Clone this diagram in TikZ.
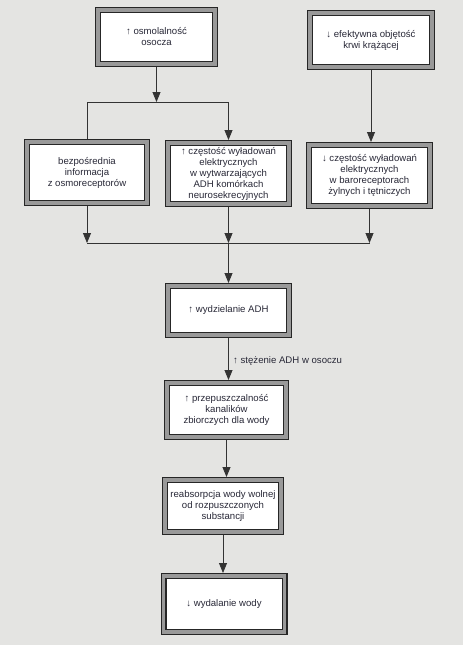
\documentclass[tikz,border=0pt]{standalone}
\usepackage{fontspec}
\setmainfont{Liberation Sans}
\usetikzlibrary{arrows.meta}
\definecolor{bgc}{RGB}{228,228,226}
\definecolor{txt}{RGB}{40,40,55}
\begin{document}
\begin{tikzpicture}[x=1pt,y=-1pt,
  box/.style={draw=black!85, line width=1.2pt, double=black!40, double distance=3.6pt,
    fill=white, align=center, inner sep=2pt, outer sep=3pt,
    font=\fontsize{9.6}{11}\selectfont, text=txt},
  conn/.style={draw=black!80, line width=0.8pt},
  arr/.style={conn, -{Triangle[width=8pt,length=10pt]}},
  lbl/.style={font=\fontsize{9.6}{11}\selectfont, text=txt, inner sep=0pt}]
\fill[bgc] (0,0) rectangle (463,645);
\useasboundingbox (0,0) rectangle (463,645);

\node[box, minimum width=117pt, minimum height=54pt] (b1) at (156.5,37) {↑ osmolalność\\osocza};
\node[box, minimum width=122pt, minimum height=54pt] (b2) at (371,40) {↓ efektywna objętość\\krwi krążącej};
\node[box, minimum width=120pt, minimum height=61pt] (b3) at (87,172.5) {bezpośrednia\\informacja\\z osmoreceptorów};
\node[box, minimum width=121pt, minimum height=61pt] (b4) at (228.5,173.5) {↑ częstość wyładowań\\elektrycznych\\w wytwarzających\\ADH komórkach\\neurosekrecyjnych};
\node[box, minimum width=121pt, minimum height=61pt] (b5) at (369.5,175.5) {↓ częstość wyładowań\\elektrycznych\\w baroreceptorach\\żylnych i tętniczych};
\node[box, minimum width=121pt, minimum height=49pt] (b6) at (228.5,310.5) {↑ wydzielanie ADH};
\node[box, minimum width=119pt, minimum height=54pt] (b7) at (226.5,410) {↑ przepuszczalność\\kanalików\\zbiorczych dla wody};
\node[box, minimum width=116pt, minimum height=52pt] (b8) at (223,506) {reabsorpcja wody wolnej\\od rozpuszczonych\\substancji};
\node[box, minimum width=121pt, minimum height=56pt] (b9) at (224,604) {↓ wydalanie wody};

\coordinate (h1) at (0,102);
\coordinate (h2) at (0,243);

% upper connectors
\draw[arr] (b1.south) -- (b1.south |- h1);
\draw[conn] (b3.north) -- (b3.north |- h1) -- (b4.north |- h1);
\draw[arr] (b4.north |- h1) -- (b4.north);
\draw[arr] (b2.south) -- (b2.south |- b5.north);

% lower connectors
\draw[arr] (b3.south) -- (b3.south |- h2);
\draw[arr] (b4.south) -- (b4.south |- h2);
\draw[arr] (b5.south) -- (b5.south |- h2);
\draw[conn] (b3.south |- h2) -- (b5.south |- h2);
\draw[arr] (b4.south |- h2) -- (b6.north);

\draw[arr] (b6.south) -- (b6.south |- b7.north);
\node[lbl, anchor=west] (l1) at (233,361) {↑ stężenie ADH w osoczu};
\draw[arr] (b7.south) -- (b7.south |- b8.north);
\draw[arr] (b8.south) -- (b8.south |- b9.north);
\end{tikzpicture}
\end{document}
